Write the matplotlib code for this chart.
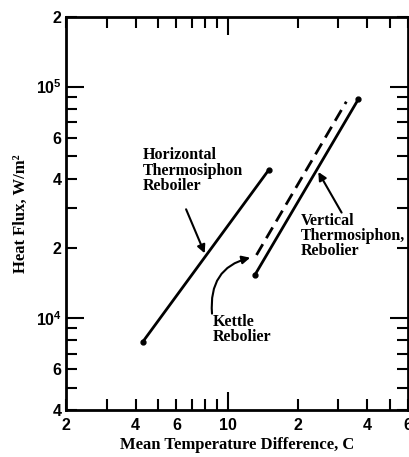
import numpy as np
import matplotlib
matplotlib.use("Agg")
import matplotlib.pyplot as plt
from matplotlib.ticker import FixedLocator, FixedFormatter

# curve end points (delta T in C, heat flux in W/m2)
horiz_x = [4.3, 15.0]
horiz_y = [7900, 43500]
kettle_x = [13.3, 32.5]
kettle_y = [18700, 86000]
vert_x = [13.1, 36.6]
vert_y = [15350, 88000]

x_major = [10]
x_major_labels = ["10"]
x_minor = [2, 3, 4, 5, 6, 7, 8, 9, 20, 30, 40, 50, 60]
x_minor_labels = ["2", "", "4", "", "6", "", "", "", "2", "", "4", "", "6"]
y_major = [1e4, 1e5]
y_major_labels = [r"$10^4$", r"$10^5$"]
y_minor = [4000, 5000, 6000, 7000, 8000, 9000,
           20000, 30000, 40000, 50000, 60000, 70000, 80000, 90000, 200000]
y_minor_labels = ["4", "", "6", "", "", "",
                  "2", "", "4", "", "6", "", "", "", "2"]

plt.rcParams["mathtext.fontset"] = "custom"
plt.rcParams["mathtext.rm"] = "Liberation Sans:bold"
plt.rcParams["mathtext.bf"] = "Liberation Sans:bold"
plt.rcParams["mathtext.it"] = "Liberation Sans:bold"

serif = "Liberation Serif"
sans = ["Liberation Sans", "DejaVu Sans"]

fig = plt.figure(figsize=(4.1, 4.57), dpi=100)
ax = fig.add_axes([0.161, 0.103, 0.834, 0.860])
ax.set_xscale("log")
ax.set_yscale("log")
ax.set_xlim(2, 60)
ax.set_ylim(4000, 200000)

ax.plot(horiz_x, horiz_y, color="black", lw=2, marker="o", ms=3.5, solid_capstyle="round")
ax.plot(kettle_x, kettle_y, color="black", lw=2, ls=(0, (4.5, 2.5)))
ax.plot(vert_x, vert_y, color="black", lw=2, marker="o", ms=3.5, solid_capstyle="round")

ax.xaxis.set_major_locator(FixedLocator(x_major))
ax.xaxis.set_major_formatter(FixedFormatter(x_major_labels))
ax.xaxis.set_minor_locator(FixedLocator(x_minor))
ax.xaxis.set_minor_formatter(FixedFormatter(x_minor_labels))
ax.yaxis.set_major_locator(FixedLocator(y_major))
ax.yaxis.set_major_formatter(FixedFormatter(y_major_labels))
ax.yaxis.set_minor_locator(FixedLocator(y_minor))
ax.yaxis.set_minor_formatter(FixedFormatter(y_minor_labels))

ax.tick_params(which="both", direction="in", top=True, right=True, width=1.5, color="black")
ax.tick_params(which="major", length=13)
ax.tick_params(which="minor", length=8)
ax.tick_params(axis="x", which="both", pad=6)
ax.tick_params(axis="y", which="both", pad=3)
for lab in ax.get_xticklabels(which="both") + ax.get_yticklabels(which="both"):
    lab.set_fontfamily(sans)
    lab.set_fontweight("bold")
    lab.set_fontsize(11.5)
for sp in ax.spines.values():
    sp.set_linewidth(2)

ax.set_xlabel("Mean Temperature Difference, C", family=serif, weight="bold", fontsize=12, labelpad=3)
ax.set_ylabel("Heat Flux, W/m\u00b2", family=serif, weight="bold", fontsize=12, labelpad=5)


def on_line(xs, ys, f):
    lx = np.log10(xs[0]) + f * (np.log10(xs[1]) - np.log10(xs[0]))
    ly = np.log10(ys[0]) + f * (np.log10(ys[1]) - np.log10(ys[0]))
    return 10 ** lx, 10 ** ly


arrow = dict(arrowstyle="-|>", color="black", lw=1.5, mutation_scale=12)
txt = dict(family=serif, weight="bold", fontsize=11.5, ha="left", va="top", linespacing=0.95)

ax.annotate("", xy=on_line(horiz_x, horiz_y, 0.5), xycoords="data",
            xytext=(0.348, 0.517), textcoords="axes fraction", arrowprops=arrow)
ax.text(0.225, 0.668, "Horizontal\nThermosiphon\nReboiler", transform=ax.transAxes, **txt)

ax.annotate("", xy=on_line(kettle_x, kettle_y, -0.01), xycoords="data",
            xytext=(0.427, 0.245), textcoords="axes fraction",
            arrowprops=dict(arrow, connectionstyle="arc3,rad=-0.45", shrinkA=0, shrinkB=4))
ax.text(0.43, 0.245, "Kettle\nRebolier", transform=ax.transAxes, **txt)

ax.annotate("", xy=on_line(vert_x, vert_y, 0.6), xycoords="data",
            xytext=(0.81, 0.496), textcoords="axes fraction", arrowprops=arrow)
ax.text(0.687, 0.502, "Vertical\nThermosiphon,\nRebolier", transform=ax.transAxes, **txt)

fig.savefig("out.png", dpi=100)
